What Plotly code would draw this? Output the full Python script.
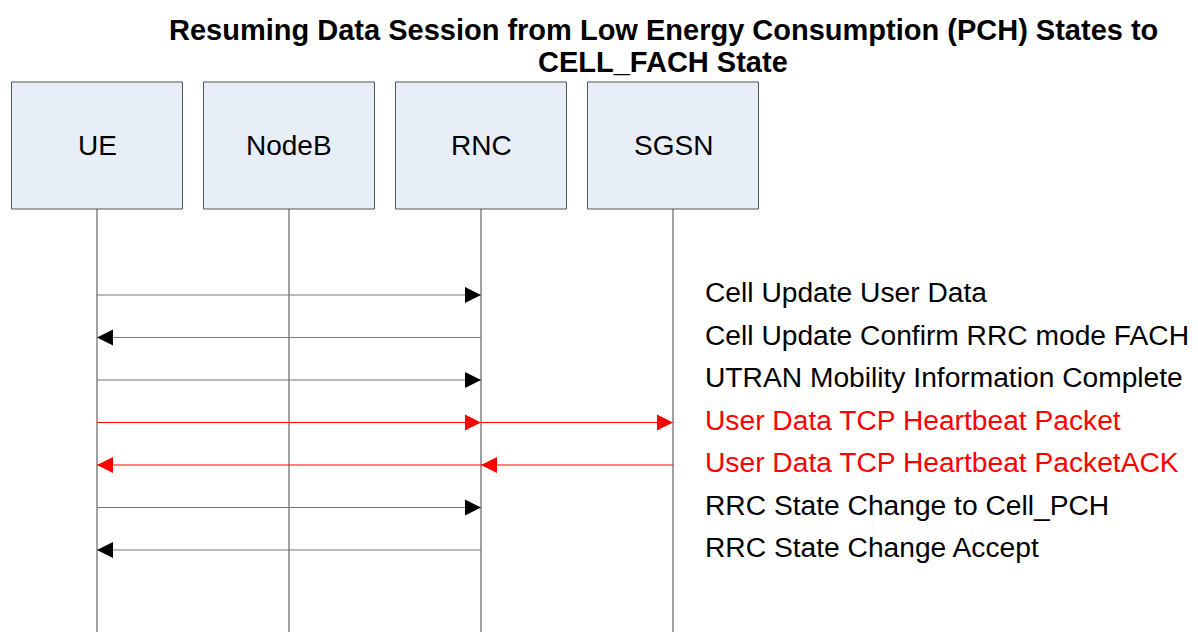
import plotly.graph_objects as go

participants = ["UE", "NodeB", "RNC", "SGSN"]
# messages: (path of participants, label, colour)
msg_paths = [
    ["UE", "RNC"],
    ["RNC", "UE"],
    ["UE", "RNC"],
    ["UE", "RNC", "SGSN"],
    ["SGSN", "RNC", "UE"],
    ["UE", "RNC"],
    ["RNC", "UE"],
]
msg_labels = [
    "Cell Update User Data",
    "Cell Update Confirm RRC mode FACH",
    "UTRAN Mobility Information Complete",
    "User Data TCP Heartbeat Packet",
    "User Data TCP Heartbeat PacketACK",
    "RRC State Change to Cell_PCH",
    "RRC State Change Accept",
]
msg_colors = ["black", "black", "black", "red", "red", "black", "black"]
title_lines = ["Resuming Data Session from Low Energy Consumption (PCH) States to",
               "CELL_FACH State"]

OFF = 8  # page body margin
W, H = 1198 - OFF, 632 - OFF
FONT = "Liberation Sans, Arial, sans-serif"

# pixel -> data mapping helpers (in reference screen pixels)
X0, DX = 97, 192     # participant 0 centre, spacing
Y0, DY = 295, 42.5   # message 0 row, spacing


def px_x(p):
    return (p - X0) / DX


def px_y(p):
    return (p - Y0) / DY


idx = {p: i for i, p in enumerate(participants)}

fig = go.Figure()
shapes = []
annotations = []

box_half = 85.5 / DX
box_top, box_bot = px_y(82), px_y(209)
y_bottom = px_y(700)

for i, p in enumerate(participants):
    shapes.append(dict(type="rect", xref="x", yref="y",
                       x0=i - box_half, x1=i + box_half, y0=box_top, y1=box_bot,
                       fillcolor="#E8EEF8", line=dict(color="#555555", width=1)))
    shapes.append(dict(type="line", xref="x", yref="y",
                       x0=i, x1=i, y0=box_bot, y1=y_bottom,
                       line=dict(color="#444444", width=1)))
    annotations.append(dict(x=i, y=(box_top + box_bot) / 2, xref="x", yref="y",
                            text=p, showarrow=False,
                            font=dict(family=FONT, size=28, color="black")))

for k, (path, label, col) in enumerate(zip(msg_paths, msg_labels, msg_colors)):
    line_col = "#777777" if col == "black" else col
    for a, b in zip(path[:-1], path[1:]):
        shapes.append(dict(type="line", xref="x", yref="y",
                           x0=idx[a], x1=idx[b], y0=k, y1=k,
                           line=dict(color=line_col, width=1)))
        d = 1 if idx[b] > idx[a] else -1
        annotations.append(dict(x=idx[b], y=k, ax=-d * 16, ay=0,
                                xref="x", yref="y",
                                text="", showarrow=True, arrowhead=2,
                                arrowsize=3.2, arrowwidth=1, arrowcolor=col,
                                standoff=0, startstandoff=0))
    annotations.append(dict(x=px_x(703), y=k - 0.06, xref="x", yref="y", text=label,
                            showarrow=False, xanchor="left", yanchor="middle",
                            font=dict(family=FONT, size=28.2, color=col)))

for j, (t, ty) in enumerate(zip(title_lines, [30, 62])):
    annotations.append(dict(x=px_x(663), y=px_y(ty), xref="x", yref="y",
                            text="<b>" + t + "</b>", showarrow=False,
                            xanchor="center", yanchor="middle",
                            font=dict(family=FONT, size=29, color="black")))

fig.update_layout(
    width=W, height=H,
    margin=dict(l=0, r=0, t=0, b=0),
    paper_bgcolor="white", plot_bgcolor="white",
    showlegend=False,
    shapes=shapes, annotations=annotations,
    xaxis=dict(range=[px_x(OFF), px_x(1198)], visible=False, fixedrange=True),
    yaxis=dict(range=[px_y(632), px_y(OFF)], visible=False, fixedrange=True),
)

fig.write_html("out.html")
